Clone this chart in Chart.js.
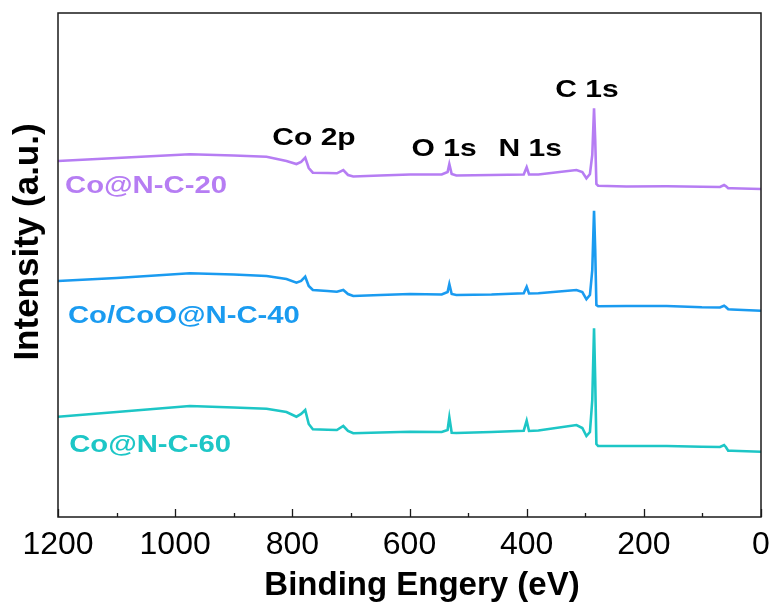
<!DOCTYPE html>
<html>
<head>
<meta charset="utf-8">
<script src="https://cdn.jsdelivr.net/npm/chart.js@4.4.0/dist/chart.umd.min.js"></script>
<style>
  html, body { margin: 0; padding: 0; background: #fff; }
  #wrap { width: 774px; height: 606px; }
</style>
</head>
<body>
<div id="wrap"><canvas id="xps"></canvas></div>
<script>
// Binding energy (eV), shared by the three survey spectra
const energy = [1200, 1100, 975, 900, 844, 810, 793, 785, 778, 772, 765, 740, 724, 713, 705, 696, 650, 599,
  545, 535, 532, 528, 520, 460, 405, 400, 396, 380, 315, 305, 298, 292, 288, 285, 283, 281, 278, 230, 161,
  101, 70, 63, 60, 56, 50, 0];

// Intensities (a.u., already stacked with offsets as in the figure)
const coNC20 = [356, 359, 362.7, 361.5, 360.3, 356, 353, 355, 359.3, 349, 344.3, 344, 343.7, 347, 342, 340.5, 341.5, 342.5,
  342.5, 345, 353, 343, 341.5, 342, 342.5, 349.7, 342.5, 342.5, 347, 345, 338.7, 343, 362, 408.7, 377, 333, 331.3, 330.5, 330.7,
  330.3, 330, 332, 331, 328.7, 328.7, 328];
const coCoONC40 = [236, 239, 243.7, 242.5, 241, 238, 234.3, 236, 240.3, 231, 227, 226, 225.3, 227, 223, 221, 222, 223,
  222.5, 225, 233, 223, 222, 222.5, 223.7, 230.3, 223.5, 223.7, 227, 225, 217.7, 222, 247, 306.3, 267, 212, 210.7, 211, 211,
  209.7, 209.5, 211.3, 210, 207.7, 207.5, 206.3];
const coNC60 = [100.3, 105, 111, 109.5, 108.3, 105, 100.3, 103, 107, 93, 87.7, 87.3, 87, 91, 86, 83.7, 84.5, 85.3,
  85, 87, 99.7, 84.3, 84, 85, 86.3, 96.3, 86, 86.5, 92, 89, 81, 85, 117, 188.7, 137, 73, 71, 71, 71,
  70.3, 70, 72, 70, 66.3, 66.3, 65.3];

const seriesNames = ['Co@N-C-20', 'Co/CoO@N-C-40', 'Co@N-C-60'];
const seriesColors = ['#b67df3', '#1a9bf0', '#1dc6c6'];
const seriesLabelX = [1188, 1183, 1181];
const seriesLabelY = [324, 194, 65];

const peakNames = ['Co 2p', 'O 1s', 'N 1s', 'C 1s'];
const peakLabelX = [763, 541, 394, 297];
const peakLabelY = [372, 361, 361, 420];

const xTicks = [1200, 1000, 800, 600, 400, 200, 0];

const FONT = '"Liberation Sans", Arial, Helvetica, sans-serif';

function toPoints(ys) {
  return energy.map((e, i) => ({ x: e, y: ys[i] }));
}

// draws a text a bit wider than the font, like the labels in the figure
function stretchedText(ctx, text, x, y, align, sx) {
  ctx.save();
  ctx.translate(x, y);
  ctx.scale(sx, 1);
  ctx.textAlign = align;
  ctx.fillText(text, 0, 0);
  ctx.restore();
}

const decorPlugin = {
  id: 'decor',
  afterDatasetsDraw(chart) {
    const ctx = chart.ctx;
    const area = chart.chartArea;
    const xs = chart.scales.x;
    const ys = chart.scales.y;

    // frame
    ctx.save();
    ctx.strokeStyle = '#1a1a1a';
    ctx.lineWidth = 1.5;
    ctx.strokeRect(area.left, area.top, area.right - area.left, area.bottom - area.top);

    // inward tick marks, major every 200, minor every 100
    ctx.lineWidth = 1.3;
    for (let v = 0; v <= 1200; v += 100) {
      const px = Math.round(xs.getPixelForValue(v)) + 0.5;
      const len = v % 200 === 0 ? 8 : 4;
      ctx.beginPath();
      ctx.moveTo(px, area.bottom);
      ctx.lineTo(px, area.bottom - len);
      ctx.stroke();
    }

    ctx.textBaseline = 'alphabetic';
    ctx.font = 'bold 24px ' + FONT;

    // peak labels
    ctx.fillStyle = '#000';
    peakNames.forEach((name, i) => {
      stretchedText(ctx, name, xs.getPixelForValue(peakLabelX[i]), ys.getPixelForValue(peakLabelY[i]), 'center', 1.25);
    });

    // sample labels
    seriesNames.forEach((name, i) => {
      ctx.fillStyle = seriesColors[i];
      stretchedText(ctx, name, xs.getPixelForValue(seriesLabelX[i]), ys.getPixelForValue(seriesLabelY[i]), 'left', 1.22);
    });

    // axis titles
    ctx.fillStyle = '#000';
    ctx.font = 'bold 33px ' + FONT;
    ctx.textAlign = 'center';
    ctx.fillText('Binding Engery (eV)', 422, 595);

    ctx.translate(38, 242);
    ctx.rotate(-Math.PI / 2);
    ctx.font = 'bold 35px ' + FONT;
    ctx.fillText('Intensity (a.u.)', 0, 0);
    ctx.restore();
  }
};

new Chart(document.getElementById('xps'), {
  type: 'line',
  data: {
    datasets: [coNC20, coCoONC40, coNC60].map((ys, i) => ({
      label: seriesNames[i],
      data: toPoints(ys),
      borderColor: seriesColors[i],
      borderWidth: 2.6,
      pointRadius: 0,
      tension: 0,
      fill: false
    }))
  },
  options: {
    responsive: true,
    maintainAspectRatio: false,
    animation: false,
    devicePixelRatio: 1,
    layout: { padding: { top: 13, right: 13, left: 0, bottom: 0 } },
    plugins: {
      legend: { display: false },
      tooltip: { enabled: false }
    },
    scales: {
      x: {
        type: 'linear',
        min: 0,
        max: 1200,
        reverse: true,
        grid: { display: false, drawTicks: false },
        border: { display: false },
        afterBuildTicks(scale) {
          scale.ticks = xTicks.map(v => ({ value: v }));
        },
        ticks: {
          color: '#000',
          font: { family: FONT, size: 32 },
          padding: 9,
          maxRotation: 0,
          autoSkip: false,
          callback: v => String(v)
        },
        afterFit(scale) {
          scale.height = 89;
          scale.paddingLeft = 0;
          scale.paddingRight = 0;
        }
      },
      y: {
        min: 0,
        max: 504,
        grid: { display: false, drawTicks: false },
        border: { display: false },
        ticks: { display: false },
        afterFit(scale) { scale.width = 58; }
      }
    }
  },
  plugins: [decorPlugin]
});
</script>
</body>
</html>
